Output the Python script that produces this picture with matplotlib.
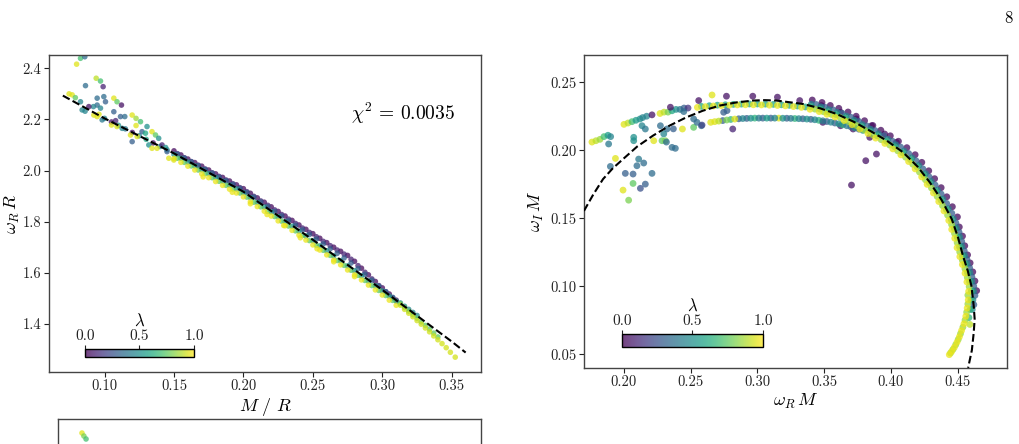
import numpy as np
import matplotlib
matplotlib.use('Agg')
import matplotlib.pyplot as plt
from matplotlib.ticker import FormatStrFormatter

## Fonte tipo LaTeX (Computer Modern)
matplotlib.rc('font', family='serif', serif=['cmr10'])
matplotlib.rc('mathtext', fontset='cm')
matplotlib.rcParams['axes.formatter.use_mathtext'] = True
matplotlib.rc('axes', edgecolor='#444444', linewidth=1.0)

# ---------------- left panel: omega_R R vs M/R ----------------
fit_x = [0.07, 0.10, 0.15, 0.20, 0.25, 0.30, 0.35, 0.36]
fit_y = [2.293, 2.204, 2.067, 1.917, 1.729, 1.533, 1.331, 1.288]

band_x = [0.150, 0.155, 0.160, 0.165, 0.170, 0.175, 0.180, 0.185, 0.190, 0.195, 0.200,
          0.205, 0.210, 0.215, 0.220, 0.225, 0.230, 0.235, 0.240, 0.245, 0.250, 0.255,
          0.260, 0.265, 0.270, 0.275, 0.280, 0.285, 0.290, 0.295, 0.300, 0.305, 0.310]
band_purple = [2.077, 2.061, 2.045, 2.031, 2.017, 2.002, 1.987, 1.973, 1.959, 1.944, 1.929,
               1.911, 1.893, 1.876, 1.858, 1.840, 1.822, 1.805, 1.787, 1.770, 1.753, 1.735,
               1.718, 1.700, 1.684, 1.668, 1.645, 1.618, 1.592, 1.566, 1.541, 1.517, 1.493]
band_teal = [2.063, 2.048, 2.033, 2.018, 2.003, 1.988, 1.973, 1.958, 1.943, 1.928, 1.913,
             1.894, 1.875, 1.857, 1.838, 1.819, 1.800, 1.782, 1.763, 1.744, 1.725, 1.705,
             1.686, 1.666, 1.647, 1.627, 1.608, 1.588, 1.568, 1.549, 1.529, 1.509, 1.489]
band_yellow = [2.047, 2.032, 2.017, 2.002, 1.987, 1.972, 1.957, 1.942, 1.927, 1.912, 1.897,
               1.878, 1.859, 1.841, 1.822, 1.803, 1.784, 1.766, 1.747, 1.728, 1.709, 1.689,
               1.670, 1.650, 1.631, 1.611, 1.592, 1.572, 1.552, 1.533, 1.513, 1.493, 1.473]

# tracks sitting half way between the ones above
band_xm = [0.1525, 0.1575, 0.1625, 0.1675, 0.1725, 0.1775, 0.1825, 0.1875, 0.1925, 0.1975,
           0.2025, 0.2075, 0.2125, 0.2175, 0.2225, 0.2275, 0.2325, 0.2375, 0.2425, 0.2475,
           0.2525, 0.2575, 0.2625, 0.2675, 0.2725, 0.2775, 0.2825, 0.2875, 0.2925, 0.2975,
           0.3025, 0.3075]
band_purple2 = [2.066, 2.050, 2.035, 2.021, 2.006, 1.991, 1.977, 1.963, 1.948, 1.933, 1.917,
                1.899, 1.881, 1.864, 1.846, 1.828, 1.810, 1.793, 1.775, 1.758, 1.741, 1.723,
                1.706, 1.689, 1.673, 1.653, 1.628, 1.602, 1.576, 1.550, 1.526, 1.502]
band_blue = [2.064, 2.049, 2.034, 2.019, 2.004, 1.990, 1.974, 1.960, 1.946, 1.930, 1.914,
             1.896, 1.877, 1.859, 1.840, 1.822, 1.804, 1.786, 1.768, 1.750, 1.732, 1.713,
             1.694, 1.676, 1.658, 1.638, 1.616, 1.594, 1.571, 1.548, 1.526, 1.504]
band_green = [2.048, 2.032, 2.018, 2.002, 1.988, 1.972, 1.958, 1.942, 1.928, 1.912, 1.896,
              1.876, 1.858, 1.840, 1.820, 1.802, 1.783, 1.764, 1.746, 1.726, 1.707, 1.688,
              1.668, 1.648, 1.629, 1.610, 1.590, 1.570, 1.550, 1.531, 1.511, 1.492]

bump_x = [0.171, 0.192, 0.205, 0.217, 0.229, 0.241, 0.253, 0.265, 0.280]
bump_y = [1.975, 1.915, 1.870, 1.828, 1.785, 1.737, 1.694, 1.643, 1.585]

tail_x = [0.313, 0.316, 0.319, 0.322, 0.325, 0.328, 0.331, 0.334, 0.337, 0.340, 0.343,
          0.346, 0.349, 0.3525]
tail_yellow = [1.473, 1.457, 1.442, 1.428, 1.413, 1.399, 1.384, 1.369, 1.353, 1.338, 1.323,
               1.307, 1.289, 1.270]
tail_green = [1.479, 1.464, 1.450, 1.436, 1.422, 1.408, 1.394, 1.380, 1.364, 1.349]
tail_teal = [1.482, 1.469, 1.457, 1.445, 1.433]

lo_x = [0.100, 0.105, 0.110, 0.115, 0.120, 0.125, 0.130, 0.135, 0.140, 0.145]
lo_y = [2.204, 2.190, 2.177, 2.163, 2.149, 2.136, 2.122, 2.108, 2.094, 2.081]
lo_lam = [0.45, 0.05, 0.5, 0.4, 0.05, 0.45, 0.6, 0.05, 0.5, 0.45]

spray_x = [0.0799, 0.0827, 0.0858, 0.094, 0.0971, 0.099, 0.0863, 0.0767, 0.079, 0.0745,
           0.0827, 0.0839, 0.086, 0.0947, 0.0995, 0.0947, 0.1007, 0.0971, 0.0983, 0.092,
           0.0923, 0.0947, 0.096, 0.0887, 0.1067, 0.109, 0.1122, 0.1067, 0.1115, 0.1146,
           0.108, 0.105, 0.109, 0.1127, 0.1199, 0.1227, 0.1259, 0.1227, 0.1306, 0.1187,
           0.1235, 0.1199, 0.127, 0.1295, 0.1342, 0.1367, 0.139, 0.1319, 0.1342, 0.1378,
           0.1414, 0.145, 0.1463, 0.1499, 0.144]
spray_y = [2.416, 2.439, 2.445, 2.361, 2.350, 2.328, 2.332, 2.296, 2.285, 2.300,
           2.269, 2.237, 2.232, 2.283, 2.289, 2.256, 2.269, 2.244, 2.198, 2.250,
           2.217, 2.211, 2.220, 2.250, 2.283, 2.269, 2.256, 2.230, 2.211, 2.211,
           2.195, 2.178, 2.172, 2.165, 2.217, 2.204, 2.191, 2.176, 2.172, 2.139,
           2.133, 2.113, 2.152, 2.146, 2.152, 2.139, 2.126, 2.100, 2.087, 2.087,
           2.100, 2.074, 2.048, 2.041, 2.090]
spray_lam = [0.95, 0.7, 0.35, 0.9, 0.7, 0.1, 0.35, 0.95, 0.75, 0.95,
             0.45, 0.45, 0.45, 0.35, 0.35, 0.35, 0.3, 0.45, 0.4, 0.45,
             0.95, 0.95, 0.95, 0.05, 0.95, 0.75, 0.05, 0.3, 0.3, 0.35,
             0.1, 0.95, 0.95, 0.45, 0.95, 0.85, 0.7, 0.95, 0.5, 0.95,
             0.95, 0.3, 0.3, 0.6, 0.95, 0.75, 0.5, 0.5, 0.95, 0.95,
             0.1, 0.3, 0.95, 0.95, 0.5]

# ---------------- right panel: omega_I M vs omega_R M ----------------
fit2_x = [0.170, 0.177, 0.1843, 0.1915, 0.1993, 0.210, 0.2217, 0.234, 0.2468, 0.259, 0.2717,
          0.284, 0.2967, 0.3055, 0.3142, 0.3342, 0.347, 0.3592, 0.372, 0.3842, 0.397, 0.4091,
          0.420, 0.4292, 0.438, 0.4457, 0.4503, 0.4541, 0.4577, 0.4604, 0.4621, 0.4628,
          0.4621, 0.4607, 0.4579]
fit2_y = [0.1554, 0.1675, 0.1788, 0.1866, 0.1935, 0.2028, 0.2107, 0.2180, 0.2242, 0.2290, 0.2328,
          0.2351, 0.2365, 0.2368, 0.2365, 0.2340, 0.2308, 0.2267, 0.2210, 0.2144, 0.2070, 0.1985,
          0.1880, 0.1764, 0.1635, 0.1493, 0.1360, 0.1223, 0.1112, 0.1002, 0.0855, 0.0760,
          0.0659, 0.0530, 0.0401]

up_x = [0.255, 0.261, 0.267, 0.273, 0.279, 0.285, 0.291, 0.297, 0.303, 0.309, 0.315, 0.321, 0.327, 0.333]
up_yellow = [0.2315, 0.2320, 0.2325, 0.2328, 0.2331, 0.2333, 0.2334, 0.2334, 0.2333, 0.2331,
             0.2329, 0.2326, 0.2321, 0.2315]
up2_x = [0.258, 0.264, 0.270, 0.276, 0.282, 0.288, 0.294, 0.300, 0.306, 0.312, 0.318, 0.324, 0.330, 0.336]
up2_y = [0.2322, 0.2327, 0.2331, 0.2334, 0.2337, 0.2339, 0.2340, 0.2340, 0.2339, 0.2337,
         0.2334, 0.2330, 0.2325, 0.2318]

low_x = [0.265, 0.271, 0.277, 0.283, 0.289, 0.295, 0.301, 0.307, 0.313, 0.319, 0.325, 0.331,
         0.337, 0.343, 0.349, 0.355, 0.361, 0.367, 0.373, 0.379]
low_y = [0.2205, 0.2214, 0.2222, 0.2229, 0.2233, 0.2235, 0.2236, 0.2236, 0.2236, 0.2235, 0.2234,
         0.2232, 0.2229, 0.2224, 0.2216, 0.2206, 0.2194, 0.2180, 0.2164, 0.2146]
low_lam = [0.95, 0.9, 0.8, 0.95, 0.45, 0.5, 0.4, 0.55, 0.45, 0.5, 0.4, 0.45, 0.5, 0.45, 0.4,
           0.45, 0.5, 0.4, 0.45, 0.5]
low2_x = [0.268, 0.274, 0.280, 0.286, 0.292, 0.298, 0.304, 0.310, 0.316, 0.322, 0.328, 0.334,
          0.340, 0.346, 0.352, 0.358, 0.364, 0.370, 0.376]
low2_y = [0.2210, 0.2218, 0.2226, 0.2231, 0.2234, 0.2236, 0.2236, 0.2236, 0.2236, 0.2235, 0.2233,
          0.2231, 0.2227, 0.2220, 0.2211, 0.2200, 0.2187, 0.2172, 0.2155]
low2_lam = [0.95, 0.3, 0.65, 0.3, 0.3, 0.65, 0.3, 0.3, 0.95, 0.3, 0.65, 0.3, 0.3, 0.65, 0.3,
            0.3, 0.65, 0.3, 0.3]

arc_purple_x = [0.3411, 0.3484, 0.3546, 0.3610, 0.3679, 0.3740, 0.3803, 0.3865, 0.3925, 0.3996,
                0.4057, 0.4120, 0.4182, 0.4232, 0.4284, 0.4328, 0.4377, 0.4419, 0.4461, 0.4499,
                0.4513, 0.4537, 0.4554, 0.4575, 0.4594, 0.4614, 0.4630, 0.4643]
arc_purple_y = [0.2369, 0.2351, 0.2329, 0.2308, 0.2281, 0.2250, 0.2217, 0.2182, 0.2147, 0.2106,
                0.2066, 0.2019, 0.1967, 0.1911, 0.1849, 0.1791, 0.1725, 0.1658, 0.1585, 0.1510,
                0.1436, 0.1369, 0.1298, 0.1231, 0.1172, 0.1106, 0.1039, 0.0968]
arc_blue_x = [0.3440, 0.3506, 0.3568, 0.3634, 0.3699, 0.3759, 0.3821, 0.3882, 0.3946, 0.4012,
              0.4073, 0.4134, 0.4189, 0.4240, 0.4287, 0.4332, 0.4377, 0.4418, 0.4457, 0.4487,
              0.4511, 0.4531, 0.4550, 0.4570, 0.4590, 0.4607, 0.4621, 0.4630, 0.4622]
arc_blue_y = [0.2336, 0.2316, 0.2296, 0.2272, 0.2243, 0.2212, 0.2178, 0.2144, 0.2106, 0.2066,
              0.2023, 0.1975, 0.1922, 0.1863, 0.1804, 0.1744, 0.1678, 0.1609, 0.1537, 0.1466,
              0.1398, 0.1330, 0.1261, 0.1198, 0.1136, 0.1070, 0.1002, 0.0933, 0.0865]
arc_teal_x = [0.3403, 0.3474, 0.3534, 0.3597, 0.3665, 0.3725, 0.3786, 0.3848, 0.3907, 0.3977,
              0.4037, 0.4099, 0.4158, 0.4209, 0.4259, 0.4302, 0.4350, 0.4390, 0.4431, 0.4468,
              0.4491, 0.4515, 0.4532, 0.4553, 0.4572, 0.4592, 0.4607, 0.4620, 0.4615, 0.4610]
arc_teal_y = [0.2337, 0.2319, 0.2298, 0.2278, 0.2251, 0.2221, 0.2188, 0.2154, 0.2120, 0.2080,
              0.2040, 0.1994, 0.1944, 0.1888, 0.1828, 0.1771, 0.1707, 0.1641, 0.1570, 0.1497,
              0.1429, 0.1363, 0.1293, 0.1226, 0.1167, 0.1102, 0.1036, 0.0966, 0.0900, 0.0830]
arc_green_x = [0.3399, 0.3468, 0.3528, 0.3590, 0.3658, 0.3718, 0.3778, 0.3839, 0.3897, 0.3967,
               0.4027, 0.4088, 0.4147, 0.4196, 0.4246, 0.4288, 0.4336, 0.4376, 0.4416, 0.4452,
               0.4475, 0.4498, 0.4515, 0.4536, 0.4555, 0.4575, 0.4590, 0.4603, 0.4600, 0.4595, 0.4585]
arc_green_y = [0.2320, 0.2303, 0.2282, 0.2262, 0.2236, 0.2206, 0.2174, 0.2140, 0.2106, 0.2066,
               0.2026, 0.1981, 0.1931, 0.1877, 0.1817, 0.1761, 0.1697, 0.1633, 0.1563, 0.1491,
               0.1424, 0.1359, 0.1289, 0.1222, 0.1164, 0.1099, 0.1034, 0.0965, 0.0900, 0.0830, 0.0770]
arc_lime_x = [0.3431, 0.3495, 0.3555, 0.3620, 0.3684, 0.3743, 0.3803, 0.3863, 0.3927, 0.3991,
              0.4051, 0.4110, 0.4164, 0.4214, 0.4259, 0.4304, 0.4347, 0.4387, 0.4425, 0.4455,
              0.4477, 0.4497, 0.4516, 0.4536, 0.4555, 0.4573, 0.4587,
              0.4577, 0.4577, 0.4568, 0.4556, 0.4540, 0.4522, 0.4505, 0.4486, 0.4466, 0.4447]
arc_lime_y = [0.2302, 0.2283, 0.2263, 0.2240, 0.2211, 0.2181, 0.2148, 0.2114, 0.2078, 0.2038,
              0.1996, 0.1949, 0.1897, 0.1840, 0.1783, 0.1723, 0.1660, 0.1593, 0.1523, 0.1454,
              0.1389, 0.1321, 0.1253, 0.1191, 0.1130, 0.1065, 0.0998,
              0.0935, 0.0870, 0.0810, 0.0752, 0.0700, 0.0652, 0.0610, 0.0571, 0.0537, 0.0510]
arc_yellow_x = [0.3394, 0.3463, 0.3521, 0.3582, 0.3650, 0.3709, 0.3768, 0.3829, 0.3886, 0.3955,
                0.4015, 0.4075, 0.4133, 0.4182, 0.4231, 0.4272, 0.4319, 0.4359, 0.4398, 0.4434,
                0.4456, 0.4479, 0.4496, 0.4517, 0.4536, 0.4556, 0.4570, 0.4583,
                0.4580, 0.4572, 0.4562, 0.4548, 0.4530, 0.4514, 0.4496, 0.4476, 0.4456, 0.4438]
arc_yellow_y = [0.2301, 0.2284, 0.2264, 0.2244, 0.2218, 0.2188, 0.2156, 0.2123, 0.2089, 0.2050,
                0.2010, 0.1966, 0.1917, 0.1863, 0.1804, 0.1749, 0.1686, 0.1623, 0.1554, 0.1484,
                0.1418, 0.1353, 0.1284, 0.1218, 0.1160, 0.1096, 0.1032, 0.0963,
                0.0900, 0.0840, 0.0780, 0.0725, 0.0675, 0.0630, 0.0590, 0.0552, 0.0522, 0.0498]
arc_lam = [0.03, 0.3, 0.45, 0.65, 0.85, 0.97]

spray2_x = [0.176, 0.179, 0.182, 0.185, 0.188, 0.190, 0.1885, 0.1936, 0.1898, 0.201, 0.2068,
            0.2097, 0.211, 0.2148, 0.221, 0.2068, 0.1993, 0.2123, 0.216, 0.2035, 0.2073, 0.2073,
            0.200, 0.203, 0.206, 0.209, 0.212, 0.214, 0.217, 0.2135, 0.216, 0.221,
            0.227, 0.230, 0.233, 0.236, 0.239, 0.242, 0.245, 0.248, 0.2348, 0.2448,
            0.2273, 0.2322, 0.237, 0.2298, 0.2223, 0.2285, 0.231, 0.2318, 0.236, 0.2385,
            0.256, 0.266, 0.2768, 0.2965, 0.315, 0.2438, 0.2522, 0.258, 0.2522, 0.2547, 0.2585,
            0.2815, 0.2747, 0.2772, 0.3317, 0.348, 0.3623, 0.3742, 0.3855, 0.3954, 0.4042,
            0.349, 0.3623, 0.3717, 0.3842, 0.3812, 0.3892, 0.3705, 0.4592]
spray2_y = [0.206, 0.207, 0.208, 0.210, 0.211, 0.210, 0.2046, 0.194, 0.1881, 0.183, 0.1825,
            0.1886, 0.1935, 0.1906, 0.183, 0.1756, 0.1707, 0.172, 0.1751, 0.1633, 0.2095, 0.207,
            0.219, 0.220, 0.221, 0.222, 0.223, 0.224, 0.225, 0.218, 0.2156, 0.226,
            0.227, 0.228, 0.228, 0.229, 0.230, 0.230, 0.231, 0.231, 0.2316, 0.2284,
            0.218, 0.2156, 0.2157, 0.212, 0.207, 0.207, 0.207, 0.206, 0.2021, 0.2014,
            0.2365, 0.2406, 0.2397, 0.2397, 0.239, 0.2156, 0.2168, 0.218, 0.223, 0.2205, 0.2185,
            0.2156, 0.2279, 0.2291, 0.2365, 0.2328, 0.2279, 0.223, 0.218, 0.2119, 0.2058,
            0.2205, 0.218, 0.2156, 0.2095, 0.1923, 0.1972, 0.1744, 0.072]
spray2_lam = [0.95, 0.9, 0.85, 0.7, 0.55, 0.45, 0.4, 0.95, 0.35, 0.3, 0.3,
              0.35, 0.4, 0.35, 0.35, 0.75, 0.95, 0.25, 0.3, 0.8, 0.5, 0.5,
              0.95, 0.9, 0.7, 0.55, 0.5, 0.45, 0.45, 0.45, 0.4, 0.05,
              0.95, 0.9, 0.8, 0.6, 0.5, 0.4, 0.3, 0.15, 0.05, 0.35,
              0.35, 0.35, 0.3, 0.45, 0.95, 0.75, 0.8, 0.35, 0.35, 0.35,
              0.05, 0.95, 0.05, 0.05, 0.05, 0.95, 0.75, 0.35, 0.35, 0.35, 0.2,
              0.1, 0.3, 0.3, 0.05, 0.05, 0.05, 0.05, 0.05, 0.05, 0.05,
              0.05, 0.05, 0.05, 0.05, 0.05, 0.05, 0.05, 0.9]

# third panel (only its top edge is visible)
bot_x = [0.0776, 0.0790, 0.0806]
bot_y = [0.286, 0.283, 0.280]
bot_lam = [0.95, 0.8, 0.7]

lam_ticks = [0.0, 0.5, 1.0]


def dots(ax, x, y, lam, size):
    lam = np.broadcast_to(np.asarray(lam, dtype=float), (len(x),))
    return ax.scatter(x, y, c=lam, cmap='viridis', vmin=0, vmax=1, s=size,
                      alpha=0.75, edgecolors='none', zorder=2)


def lambda_bar(fig, rect, sc):
    cax = fig.add_axes(rect)
    cb = fig.colorbar(sc, cax=cax, orientation='horizontal', ticks=lam_ticks)
    cax.xaxis.set_ticks_position('top')
    cax.xaxis.set_label_position('top')
    cb.ax.xaxis.set_major_formatter(FormatStrFormatter('%.1f'))
    cb.set_label(r'$\lambda$', fontsize=12, labelpad=3)
    cb.outline.set_edgecolor('black')
    cb.outline.set_linewidth(1.0)
    cax.tick_params(length=3, width=0.8, labelsize=11, pad=1, colors='#222222')
    return cb


fig = plt.figure(figsize=(10.2, 4.44), dpi=100)

## painel da esquerda
ax1 = fig.add_axes([0.048, 0.1622, 0.4235, 0.714])
sc1 = dots(ax1, band_x, band_purple, 0.03, 16)
dots(ax1, band_xm, band_purple2, 0.1, 16)
dots(ax1, band_xm, band_blue, 0.3, 16)
dots(ax1, band_x, band_teal, 0.5, 16)
dots(ax1, band_xm, band_green, 0.75, 16)
dots(ax1, band_x, band_yellow, 0.97, 16)
dots(ax1, bump_x, bump_y, 0.97, 16)
dots(ax1, lo_x, lo_y, lo_lam, 16)
dots(ax1, tail_x[:len(tail_teal)], tail_teal, 0.45, 16)
dots(ax1, tail_x[:len(tail_green)], tail_green, 0.75, 16)
dots(ax1, tail_x, tail_yellow, 0.93, 16)
dots(ax1, spray_x, spray_y, spray_lam, 16)
ax1.plot(fit_x, fit_y, '--', color='black', lw=1.5, zorder=3)

ax1.set_xlim(0.06, 0.371)
ax1.set_ylim(1.212, 2.452)
ax1.set_xticks([0.10, 0.15, 0.20, 0.25, 0.30, 0.35])
ax1.set_yticks([1.4, 1.6, 1.8, 2.0, 2.2, 2.4])
ax1.xaxis.set_major_formatter(FormatStrFormatter('%.2f'))
ax1.yaxis.set_major_formatter(FormatStrFormatter('%.1f'))
ax1.set_xlabel(r'$M\ /\ R$', fontsize=13)
ax1.set_ylabel(r'$\omega_R\, R$', fontsize=13)
ax1.xaxis.set_label_coords(0.5, -0.075)
ax1.yaxis.set_label_coords(-0.062, 0.5)
ax1.text(0.82, 0.815, r'$\chi^2 \,=\, 0.0035$', transform=ax1.transAxes, fontsize=14,
         ha='center', va='center')
lambda_bar(fig, [0.0833, 0.196, 0.1069, 0.018], sc1)

## painel da direita
ax2 = fig.add_axes([0.5725, 0.1712, 0.4147, 0.705])
dots(ax2, spray2_x, spray2_y, spray2_lam, 24)
dots(ax2, low2_x, low2_y, low2_lam, 24)
dots(ax2, low_x, low_y, low_lam, 24)
dots(ax2, up2_x, up2_y, 0.6, 24)
dots(ax2, up_x, up_yellow, 0.97, 24)
arcs = [(arc_purple_x, arc_purple_y), (arc_blue_x, arc_blue_y), (arc_teal_x, arc_teal_y),
        (arc_green_x, arc_green_y), (arc_lime_x, arc_lime_y), (arc_yellow_x, arc_yellow_y)]
for (xx, yy), lam in zip(arcs, arc_lam):
    sc2 = dots(ax2, xx, yy, lam, 24)
ax2.plot(fit2_x, fit2_y, '--', color='black', lw=1.5, zorder=3)

ax2.set_xlim(0.17, 0.487)
ax2.set_ylim(0.04, 0.27)
ax2.set_xticks([0.20, 0.25, 0.30, 0.35, 0.40, 0.45])
ax2.set_yticks([0.05, 0.10, 0.15, 0.20, 0.25])
ax2.xaxis.set_major_formatter(FormatStrFormatter('%.2f'))
ax2.yaxis.set_major_formatter(FormatStrFormatter('%.2f'))
ax2.set_xlabel(r'$\omega_R\, M$', fontsize=13)
ax2.set_ylabel(r'$\omega_I\, M$', fontsize=13)
ax2.xaxis.set_label_coords(0.5, -0.078)
ax2.yaxis.set_label_coords(-0.09, 0.5)
lambda_bar(fig, [0.6098, 0.2185, 0.1382, 0.0293], sc2)

for ax in (ax1, ax2):
    ax.tick_params(direction='out', length=3.5, width=0.8, labelsize=10.5,
                   colors='#222222', pad=2)

## painel de baixo (cortado pela pagina)
ax3 = fig.add_axes([0.0569, -0.6194, 0.4147, 0.6757])
dots(ax3, bot_x, bot_y, bot_lam, 16)
ax3.set_xlim(0.06, 0.371)
ax3.set_ylim(0.0, 0.3)
ax3.set_xticks([])
ax3.set_yticks([])

fig.text(1008 / 1020, 1 - 18 / 444, '8', fontsize=12, ha='center', va='center')

fig.savefig('out.png', dpi=100)
